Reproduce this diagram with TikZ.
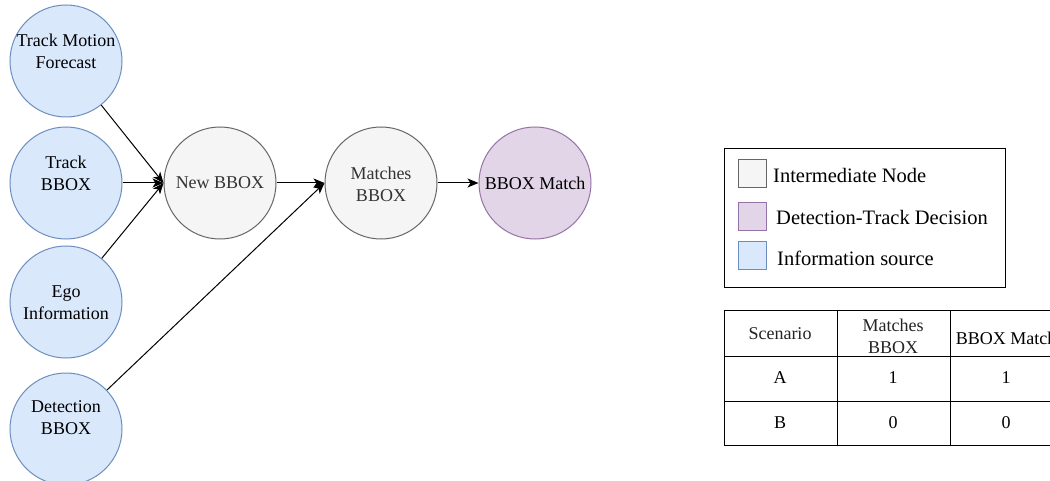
\documentclass[tikz,border=0pt]{standalone}
\usepackage{fontspec}
\setmainfont{Liberation Serif}
\usetikzlibrary{arrows.meta}
\definecolor{bluefill}{HTML}{DAE8FC}
\definecolor{bluedraw}{HTML}{6C8EBF}
\definecolor{greyfill}{HTML}{F5F5F5}
\definecolor{greydraw}{HTML}{666666}
\definecolor{greytext}{HTML}{333333}
\definecolor{purpfill}{HTML}{E1D5E7}
\definecolor{purpdraw}{HTML}{9673A6}
\tikzset{
  circ/.style={circle, minimum size=112pt, inner sep=0pt, line width=1pt, align=center,
    font=\fontsize{18}{22}\selectfont},
  src/.style={circ, fill=bluefill, draw=bluedraw},
  mid/.style={circ, fill=greyfill, draw=greydraw, text=greytext},
  dec/.style={circ, fill=purpfill, draw=purpdraw},
  txt/.style={align=center, inner sep=0pt, font=\fontsize{18}{22}\selectfont},
  arr/.style={-{Stealth[length=11pt,width=9pt,inset=3pt]}, line width=1pt, black},
  swatch/.style={minimum size=28pt, inner sep=0pt, line width=1pt},
  legtxt/.style={anchor=west, inner sep=0pt, font=\fontsize{20.5}{24}\selectfont},
  tabtxt/.style={align=center, inner sep=0pt, text=greytext!70!black, font=\fontsize{18}{22}\selectfont},
}
\begin{document}
\begin{tikzpicture}[x=1pt,y=-1pt]
\clip (0,0) rectangle (1050,481);
\fill[white] (0,0) rectangle (1050,481);
\useasboundingbox (0,0) rectangle (1050,481);

% information sources
\node[src] (tmf) at (66,61) {};
\node[txt] (tmft) at (66,51) {Track Motion\\Forecast};
\node[src] (tb) at (66,183) {};
\node[txt] (tbt) at (66,173) {Track\\BBOX};
\node[src] (ego) at (66,302) {};
\node[txt] (egot) at (66,303) {Ego\\Information};
\node[src] (det) at (66,429) {};
\node[txt] (dett) at (66,418) {Detection\\BBOX};

% intermediate + decision
\node[mid] (nb) at (220,183) {New BBOX};
\node[mid] (mb) at (381,183) {};
\node[txt, text=greytext] (mbt) at (381,184) {Matches\\BBOX};
\node[dec] (bm) at (535,183) {BBOX Match};

% connectors
\draw[arr] (tmf) -- (nb.west);
\draw[arr] (tb) -- (nb.west);
\draw[arr] (ego) -- (nb.west);
\draw[arr] (det) -- (mb.west);
\draw[arr] (nb) -- (mb);
\draw[arr] (mb) -- (bm);

% legend
\node[draw=black, line width=1pt, minimum width=281pt, minimum height=139pt, inner sep=0pt, anchor=north west] (leg) at (724,148) {};
\node[swatch, fill=greyfill, draw=greydraw, anchor=north west] (sw1) at (738,159) {};
\node[legtxt] (lt1) at (773,175) {Intermediate Node};
\node[swatch, fill=purpfill, draw=purpdraw, anchor=north west] (sw2) at (738,202) {};
\node[legtxt] (lt2) at (776,217) {Detection-Track Decision};
\node[swatch, fill=bluefill, draw=bluedraw, anchor=north west] (sw3) at (738,241) {};
\node[legtxt] (lt3) at (777,258) {Information source};

% table
\draw[line width=1pt] (724,310) rectangle (1063,445);
\draw[line width=1pt] (724,356) -- (1063,356);
\draw[line width=1pt] (724,401) -- (1063,401);
\draw[line width=1pt] (837,310) -- (837,445);
\draw[line width=1pt] (950,310) -- (950,445);
\node[tabtxt] (h1) at (780,334) {Scenario};
\node[tabtxt] (h2) at (893,336) {Matches\\BBOX};
\node[txt] (h3) at (1006,338) {BBOX Match};
\node[txt] (a1) at (780,378) {A};
\node[txt] (a2) at (893,378) {1};
\node[txt] (a3) at (1006,378) {1};
\node[txt] (b1) at (780,423) {B};
\node[txt] (b2) at (893,423) {0};
\node[txt] (b3) at (1006,423) {0};
\end{tikzpicture}
\end{document}
